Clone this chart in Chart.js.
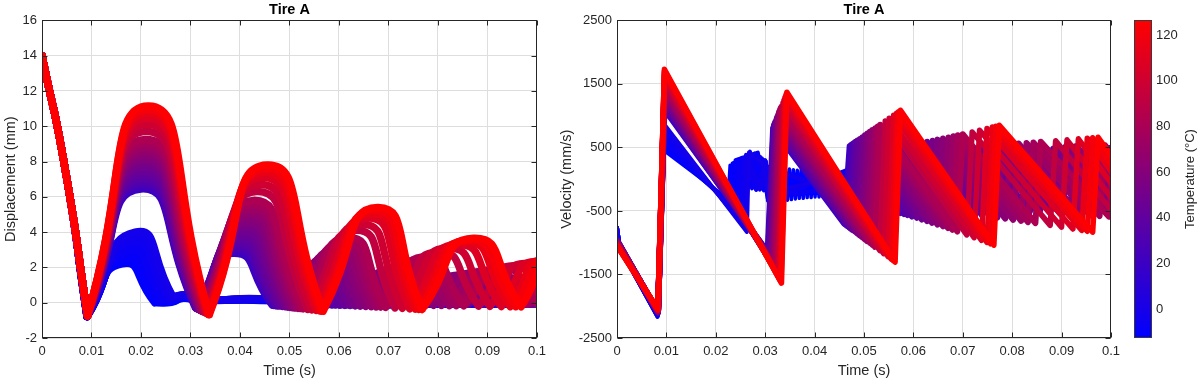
<!DOCTYPE html>
<html><head><meta charset="utf-8">
<script src="https://cdn.jsdelivr.net/npm/chart.js@4/dist/chart.umd.min.js"></script>
<style>
html,body{margin:0;padding:0;background:#fff;width:1202px;height:386px;overflow:hidden;}
canvas{position:absolute;top:0;}
#cDisp{left:0;} #cVel{left:545px;} #cBar{left:1120px;}
</style></head><body>
<canvas id="cDisp" width="552" height="386"></canvas>
<canvas id="cVel" width="581" height="386"></canvas>
<canvas id="cBar" width="82" height="386"></canvas>
<script>
// ---------------- DATA ----------------
const xTicks = [0, 0.01, 0.02, 0.03, 0.04, 0.05, 0.06, 0.07, 0.08, 0.09, 0.1];
const dispTicks = [-2, 0, 2, 4, 6, 8, 10, 12, 14, 16];
const velTicks = [-2500, -1500, -500, 500, 1500, 2500];
const tempTicks = [0, 20, 40, 60, 80, 100, 120];
const colorbarRange = [-12.7, 126.6];
const panelTitles = ['Tire A', 'Tire A'];

// one curve per temperature (cold -> hot), in °C
const temperatures = [-12.7, -11, -9.5, -8, -6.5, -5, -3.5, -2,
  20, 24, 28, 32, 36, 40, 44, 48.5, 53, 57.5, 62, 67, 72, 77, 82,
  92, 100, 108, 115, 121, 126];

// displacement: shared start of the drop
const dispDropStart = [[0, 14], [0.0046, 7.7]];

// displacement: contact points (t, mm) per curve
const dispLandings = [
  [[0.0091,-0.78],[0.0228,0.0]],
  [[0.0091,-0.78],[0.0233,0.05]],
  [[0.0091,-0.78],[0.0239,0.1]],
  [[0.0091,-0.78],[0.0245,0.14]],
  [[0.0091,-0.78],[0.0251,0.18]],
  [[0.0091,-0.78],[0.0256,0.22]],
  [[0.0091,-0.78],[0.0261,0.27]],
  [[0.0091,-0.78],[0.0265,0.32]],
  [[0.0092,-0.73],[0.0310,-0.28],[0.0465,-0.13],[0.0564,-0.08],[0.0659,-0.08],[0.0754,-0.08],[0.0849,-0.08],[0.0944,-0.08],[0.1039,-0.08]],
  [[0.0092,-0.73],[0.0311,-0.29],[0.0468,-0.14],[0.0571,-0.09],[0.0669,-0.08],[0.0767,-0.08],[0.0863,-0.08],[0.0958,-0.08],[0.1053,-0.08]],
  [[0.0092,-0.73],[0.0312,-0.30],[0.0471,-0.15],[0.0579,-0.10],[0.0680,-0.09],[0.0780,-0.08],[0.0877,-0.08],[0.0972,-0.08],[0.1067,-0.08]],
  [[0.0092,-0.73],[0.0312,-0.31],[0.0474,-0.16],[0.0586,-0.11],[0.0690,-0.09],[0.0793,-0.08],[0.0892,-0.08],[0.0988,-0.08],[0.1083,-0.08]],
  [[0.0092,-0.73],[0.0313,-0.33],[0.0477,-0.17],[0.0593,-0.12],[0.0701,-0.10],[0.0807,-0.08],[0.0908,-0.08],[0.1004,-0.08]],
  [[0.0092,-0.73],[0.0314,-0.34],[0.0481,-0.18],[0.0602,-0.13],[0.0714,-0.10],[0.0824,-0.08],[0.0928,-0.08],[0.1026,-0.08]],
  [[0.0092,-0.73],[0.0316,-0.36],[0.0486,-0.20],[0.0612,-0.14],[0.0728,-0.11],[0.0841,-0.08],[0.0948,-0.08],[0.1048,-0.08]],
  [[0.0092,-0.73],[0.0317,-0.38],[0.0491,-0.22],[0.0622,-0.15],[0.0744,-0.12],[0.0861,-0.08],[0.0969,-0.08],[0.1071,-0.08]],
  [[0.0092,-0.73],[0.0318,-0.40],[0.0496,-0.24],[0.0633,-0.17],[0.0760,-0.13],[0.0882,-0.08],[0.0991,-0.08],[0.1095,-0.08]],
  [[0.0092,-0.73],[0.0320,-0.42],[0.0501,-0.26],[0.0643,-0.19],[0.0775,-0.14],[0.0902,-0.08],[0.1015,-0.08]],
  [[0.0092,-0.73],[0.0321,-0.44],[0.0506,-0.27],[0.0654,-0.20],[0.0791,-0.14],[0.0922,-0.08],[0.1038,-0.08]],
  [[0.0092,-0.73],[0.0322,-0.46],[0.0511,-0.29],[0.0665,-0.22],[0.0807,-0.15],[0.0942,-0.08],[0.1061,-0.08]],
  [[0.0092,-0.73],[0.0324,-0.48],[0.0517,-0.31],[0.0675,-0.23],[0.0823,-0.16],[0.0963,-0.08],[0.1085,-0.08]],
  [[0.0092,-0.73],[0.0325,-0.50],[0.0522,-0.32],[0.0684,-0.24],[0.0837,-0.16],[0.0982,-0.08],[0.1092,-0.08]],
  [[0.0092,-0.73],[0.0327,-0.52],[0.0527,-0.34],[0.0694,-0.26],[0.0852,-0.17],[0.1001,-0.08],[0.1100,-0.08]],
  [[0.0092,-0.73],[0.0330,-0.56],[0.0537,-0.38],[0.0713,-0.29],[0.0882,-0.19],[0.1017,-0.08]],
  [[0.0092,-0.73],[0.0332,-0.59],[0.0545,-0.40],[0.0728,-0.31],[0.0905,-0.20],[0.1037,-0.08]],
  [[0.0092,-0.73],[0.0334,-0.62],[0.0554,-0.43],[0.0743,-0.34],[0.0928,-0.21],[0.1058,-0.08]],
  [[0.0092,-0.73],[0.0336,-0.65],[0.0560,-0.45],[0.0754,-0.36],[0.0946,-0.22],[0.1074,-0.08]],
  [[0.0092,-0.73],[0.0337,-0.66],[0.0564,-0.47],[0.0761,-0.37],[0.0957,-0.22],[0.1084,-0.08]],
  [[0.0092,-0.73],[0.0338,-0.68],[0.0568,-0.48],[0.0768,-0.38],[0.0968,-0.23],[0.1095,-0.08]]
];

// displacement: bounce apexes (t, mm) per curve
const dispPeaks = [
  [[0.0162,2.2]],
  [[0.0166,2.45]],
  [[0.0170,2.7]],
  [[0.0174,2.95]],
  [[0.0178,3.2]],
  [[0.0181,3.45]],
  [[0.0185,3.72]],
  [[0.0188,4.0]],
  [[0.0200,6.45],[0.0386,2.8],[0.0519,1.0],[0.0613,1.0],[0.0708,1.0],[0.0803,1.0],[0.0898,1.0],[0.0993,1.0]],
  [[0.0200,6.6],[0.0388,2.95],[0.0525,1.13],[0.0622,1.07],[0.0720,1.05],[0.0816,1.02],[0.0912,1.0],[0.1007,1.0]],
  [[0.0201,6.75],[0.0390,3.1],[0.0530,1.27],[0.0632,1.15],[0.0732,1.1],[0.0830,1.05],[0.0926,1.0],[0.1021,1.0]],
  [[0.0201,6.9],[0.0392,3.25],[0.0535,1.41],[0.0640,1.22],[0.0744,1.15],[0.0843,1.08],[0.0940,1.02],[0.1036,1.0]],
  [[0.0202,7.05],[0.0394,3.4],[0.0541,1.55],[0.0649,1.3],[0.0756,1.2],[0.0859,1.1],[0.0957,1.05]],
  [[0.0202,7.25],[0.0397,3.6],[0.0548,1.72],[0.0660,1.41],[0.0771,1.26],[0.0877,1.15],[0.0977,1.08]],
  [[0.0203,7.45],[0.0400,3.8],[0.0555,1.9],[0.0672,1.52],[0.0787,1.32],[0.0896,1.2],[0.0998,1.1]],
  [[0.0204,7.67],[0.0403,4.05],[0.0563,2.12],[0.0685,1.66],[0.0805,1.4],[0.0916,1.25],[0.1020,1.15]],
  [[0.0205,7.9],[0.0407,4.3],[0.0571,2.35],[0.0699,1.8],[0.0823,1.48],[0.0937,1.3],[0.1042,1.2]],
  [[0.0205,8.12],[0.0410,4.55],[0.0579,2.58],[0.0712,1.94],[0.0841,1.56],[0.0958,1.38]],
  [[0.0206,8.35],[0.0414,4.8],[0.0587,2.8],[0.0725,2.08],[0.0859,1.64],[0.0980,1.45]],
  [[0.0207,8.57],[0.0417,5.05],[0.0595,3.02],[0.0738,2.22],[0.0877,1.72],[0.1002,1.52]],
  [[0.0208,8.8],[0.0421,5.3],[0.0604,3.25],[0.0752,2.35],[0.0896,1.8],[0.1024,1.6]],
  [[0.0208,9.02],[0.0424,5.55],[0.0611,3.47],[0.0764,2.47],[0.0912,1.88],[0.1037,1.65]],
  [[0.0209,9.25],[0.0427,5.8],[0.0619,3.7],[0.0776,2.6],[0.0929,1.96],[0.1050,1.7]],
  [[0.0210,9.7],[0.0434,6.3],[0.0634,4.1],[0.0801,2.88],[0.0952,2.1]],
  [[0.0212,10.1],[0.0440,6.7],[0.0646,4.45],[0.0820,3.1],[0.0974,2.22]],
  [[0.0213,10.45],[0.0445,7.1],[0.0658,4.8],[0.0839,3.3],[0.0996,2.34]],
  [[0.0214,10.75],[0.0449,7.4],[0.0667,5.05],[0.0854,3.45],[0.1013,2.44]],
  [[0.0214,10.95],[0.0452,7.6],[0.0672,5.25],[0.0863,3.56],[0.1023,2.5]],
  [[0.0215,11.15],[0.0455,7.8],[0.0678,5.4],[0.0872,3.65],[0.1034,2.56]]
];

// displacement: resting part after the last contact (cold curves only)
const dispTails = [
  [[0.0262,0.02],[0.0285,0.25],[0.0310,0.15],[0.0458,0.12],[0.0472,-0.05],[0.1,-0.05]],
  [[0.0265,0.1],[0.0287,0.3],[0.0310,0.15],[0.0459,0.13],[0.0473,-0.05],[0.1,-0.05]],
  [[0.0268,0.2],[0.0289,0.33],[0.0310,0.16],[0.0460,0.15],[0.0474,-0.04],[0.1,-0.05]],
  [[0.0272,0.3],[0.0291,0.36],[0.0311,0.17],[0.0460,0.16],[0.0474,-0.04],[0.1,-0.05]],
  [[0.0276,0.36],[0.0293,0.38],[0.0311,0.18],[0.0461,0.17],[0.0475,-0.04],[0.1,-0.05]],
  [[0.0279,0.4],[0.0295,0.4],[0.0312,0.19],[0.0461,0.18],[0.0475,-0.04],[0.1,-0.05]],
  [[0.0282,0.43],[0.0297,0.41],[0.0312,0.2],[0.0462,0.19],[0.0476,-0.04],[0.1,-0.05]],
  [[0.0285,0.45],[0.0298,0.42],[0.0313,0.2],[0.0462,0.2],[0.0476,-0.04],[0.1,-0.05]],
  [],[],[],[],[],[],[],[],[],[],[],[],[],[],[],[],[],[],[],[],[]
];

// velocity: (t, mm/s) knots per curve
const velKnots = [
  [[0,-760],[0.0006,-1090],[0.0082,-2170],[0.0092,470],[0.0225,-310],[0.0229,220],[0.0233,-150],[0.0237,260],[0.0241,-140],[0.0245,300],[0.0249,-130],[0.0253,340],[0.0257,-120],[0.0261,390],[0.0265,-130],[0.0269,440],[0.0273,-150],[0.0277,400],[0.0281,-160],[0.0285,360],[0.0289,-170],[0.0293,320],[0.0297,-180],[0.0301,290],[0.0305,-340],[0.0309,160],[0.0313,-350],[0.0317,170],[0.0321,-340],[0.0325,160],[0.0329,-350],[0.0333,170],[0.0337,-340],[0.0341,150],[0.0345,-330],[0.0349,160],[0.0353,-320],[0.0357,150],[0.0361,-310],[0.0365,140],[0.0369,-300],[0.0373,150],[0.0377,-300],[0.0381,140],[0.0385,-290],[0.0389,130],[0.0393,-290],[0.0397,130],[0.0401,-280],[0.0405,120],[0.0409,-280],[0.0413,120],[0.0417,-270],[0.0421,110],[0.0425,-280],[0.0429,110],[0.0433,-290],[0.0437,100],[0.0441,-300],[0.0445,100],[0.0449,-290],[0.0453,90],[0.0457,-280],[0.0461,100],[0.0465,-270],[0.0469,80],[0.0475,-100],[0.1,-60]],
  [[0,-760],[0.0006,-1090],[0.0082,-2165],[0.0092,530],[0.0230,-380],[0.0234,250],[0.0280,380],[0.0300,-150],[0.0470,-200],[0.1,-80]],
  [[0,-760],[0.0006,-1090],[0.0082,-2160],[0.0092,590],[0.0236,-450],[0.0240,300],[0.0285,420],[0.0305,-250],[0.0470,120],[0.1,-30]],
  [[0,-760],[0.0006,-1090],[0.0082,-2155],[0.0092,650],[0.0242,-520],[0.0246,280],[0.0250,-120],[0.0254,330],[0.0258,-110],[0.0262,380],[0.0266,-120],[0.0270,430],[0.0274,-140],[0.0278,410],[0.0282,-150],[0.0286,370],[0.0290,-160],[0.0294,330],[0.0298,-170],[0.0302,280],[0.0308,-330],[0.0312,170],[0.0316,-340],[0.0320,160],[0.0470,-250],[0.1,-80]],
  [[0,-760],[0.0006,-1090],[0.0082,-2150],[0.0092,720],[0.0248,-600],[0.0252,200],[0.0290,350],[0.0305,-300],[0.0470,-100],[0.1,-60]],
  [[0,-760],[0.0006,-1090],[0.0082,-2145],[0.0092,780],[0.0253,-670],[0.0257,330],[0.0282,-170],[0.0300,300],[0.0310,-330],[0.0470,160],[0.1,-40]],
  [[0,-760],[0.0006,-1090],[0.0082,-2140],[0.0092,840],[0.0258,-750],[0.0262,380],[0.0290,-150],[0.0305,200],[0.0470,-300],[0.1,-70]],
  [[0,-760],[0.0006,-1090],[0.0082,-2135],[0.0092,900],[0.0263,-830],[0.0267,420],[0.0295,250],[0.0305,-200],[0.0470,60],[0.1,-50]],
  [[0,-960],[0.0083,-2100],[0.0096,1100],[0.0305,-1150],[0.0316,800],[0.0460,-700],[0.0471,520],[0.0559,-500],[0.0570,500],[0.0654,-480],[0.0665,480],[0.0749,-470],[0.0760,480],[0.0844,-460],[0.0855,480],[0.0939,-460],[0.0950,480],[0.1034,-460]],
  [[0,-962],[0.0083,-2098],[0.0096,1119],[0.0306,-1165],[0.0317,817],[0.0463,-718],[0.0474,537],[0.0566,-516],[0.0577,510],[0.0664,-490],[0.0675,485],[0.0762,-476],[0.0773,480],[0.0858,-460],[0.0869,480],[0.0953,-460],[0.0964,480],[0.1048,-460]],
  [[0,-965],[0.0083,-2097],[0.0096,1138],[0.0307,-1179],[0.0318,834],[0.0466,-736],[0.0477,554],[0.0574,-532],[0.0585,521],[0.0675,-501],[0.0686,491],[0.0775,-482],[0.0786,480],[0.0872,-460],[0.0883,480],[0.0967,-460],[0.0978,480],[0.1062,-460]],
  [[0,-967],[0.0083,-2095],[0.0096,1157],[0.0307,-1193],[0.0318,851],[0.0469,-754],[0.0480,571],[0.0581,-548],[0.0592,532],[0.0685,-512],[0.0696,497],[0.0788,-488],[0.0799,482],[0.0887,-462],[0.0898,480],[0.0983,-460],[0.0994,480],[0.1078,-460]],
  [[0,-970],[0.0083,-2094],[0.0096,1176],[0.0308,-1208],[0.0319,868],[0.0472,-773],[0.0483,588],[0.0588,-565],[0.0599,542],[0.0696,-522],[0.0707,502],[0.0802,-494],[0.0813,485],[0.0903,-465],[0.0914,480],[0.0999,-460],[0.1010,480],[0.1095,-460]],
  [[0,-972],[0.0083,-2092],[0.0096,1201],[0.0309,-1228],[0.0320,891],[0.0476,-797],[0.0487,611],[0.0597,-587],[0.0608,556],[0.0709,-537],[0.0720,509],[0.0819,-502],[0.0830,490],[0.0923,-470],[0.0934,482],[0.1021,-462]],
  [[0,-975],[0.0083,-2090],[0.0096,1226],[0.0311,-1247],[0.0322,914],[0.0481,-821],[0.0492,633],[0.0607,-608],[0.0618,570],[0.0723,-551],[0.0734,516],[0.0836,-510],[0.0847,495],[0.0943,-475],[0.0954,485],[0.1043,-465]],
  [[0,-978],[0.0083,-2088],[0.0096,1258],[0.0312,-1272],[0.0323,942],[0.0486,-852],[0.0497,662],[0.0617,-635],[0.0628,588],[0.0739,-569],[0.0750,525],[0.0856,-520],[0.0867,500],[0.0964,-483],[0.0975,488],[0.1066,-468]],
  [[0,-980],[0.0083,-2085],[0.0096,1289],[0.0313,-1296],[0.0324,970],[0.0491,-882],[0.0502,690],[0.0628,-661],[0.0639,605],[0.0755,-586],[0.0766,534],[0.0877,-530],[0.0888,505],[0.0986,-490],[0.0997,490],[0.1090,-470]],
  [[0,-985],[0.0083,-2083],[0.0096,1321],[0.0315,-1320],[0.0326,999],[0.0496,-912],[0.0507,718],[0.0638,-688],[0.0649,623],[0.0770,-604],[0.0781,543],[0.0897,-540],[0.0908,512],[0.1010,-495]],
  [[0,-990],[0.0083,-2080],[0.0096,1352],[0.0316,-1344],[0.0327,1027],[0.0501,-942],[0.0512,746],[0.0649,-715],[0.0660,640],[0.0786,-621],[0.0797,552],[0.0917,-550],[0.0928,520],[0.1033,-500]],
  [[0,-995],[0.0083,-2078],[0.0096,1384],[0.0317,-1369],[0.0328,1056],[0.0506,-973],[0.0517,775],[0.0660,-742],[0.0671,658],[0.0802,-639],[0.0813,561],[0.0937,-560],[0.0948,525],[0.1056,-505]],
  [[0,-1000],[0.0083,-2075],[0.0096,1415],[0.0319,-1393],[0.0330,1084],[0.0512,-1003],[0.0523,803],[0.0670,-769],[0.0681,675],[0.0818,-657],[0.0829,570],[0.0958,-570],[0.0969,530],[0.1080,-510]],
  [[0,-1005],[0.0083,-2073],[0.0096,1447],[0.0320,-1417],[0.0331,1113],[0.0517,-1033],[0.0528,831],[0.0679,-796],[0.0690,692],[0.0832,-675],[0.0843,579],[0.0977,-580],[0.0988,535],[0.1087,-505]],
  [[0,-1010],[0.0083,-2070],[0.0096,1478],[0.0322,-1441],[0.0333,1141],[0.0522,-1063],[0.0533,859],[0.0689,-823],[0.0700,709],[0.0847,-692],[0.0858,588],[0.0996,-590],[0.1007,540],[0.1095,-500]],
  [[0,-1020],[0.0083,-2065],[0.0096,1541],[0.0325,-1490],[0.0336,1198],[0.0532,-1124],[0.0543,916],[0.0708,-877],[0.0719,744],[0.0877,-727],[0.0888,606],[0.1012,-600]],
  [[0,-1028],[0.0083,-2061],[0.0096,1591],[0.0327,-1528],[0.0338,1243],[0.0540,-1172],[0.0551,961],[0.0723,-920],[0.0734,772],[0.0900,-755],[0.0911,620],[0.1032,-610]],
  [[0,-1036],[0.0083,-2057],[0.0096,1642],[0.0329,-1567],[0.0340,1288],[0.0549,-1220],[0.0560,1006],[0.0738,-963],[0.0749,800],[0.0923,-784],[0.0934,635],[0.1053,-615]],
  [[0,-1042],[0.0083,-2054],[0.0096,1680],[0.0331,-1596],[0.0342,1323],[0.0555,-1256],[0.0566,1040],[0.0749,-995],[0.0760,821],[0.0941,-805],[0.0952,646],[0.1069,-620]],
  [[0,-1046],[0.0083,-2052],[0.0096,1705],[0.0332,-1616],[0.0343,1345],[0.0559,-1281],[0.0570,1062],[0.0756,-1016],[0.0767,835],[0.0952,-819],[0.0963,653],[0.1079,-620]],
  [[0,-1050],[0.0083,-2050],[0.0096,1730],[0.0333,-1635],[0.0344,1368],[0.0563,-1305],[0.0574,1085],[0.0763,-1038],[0.0774,849],[0.0963,-833],[0.0974,660],[0.1090,-620]]
];

// ---------------- STYLE / BUILD ----------------
const FONT = '"Liberation Sans", Arial, Helvetica, sans-serif';
const INK = '#262626';
Chart.defaults.font.family = FONT;
Chart.defaults.color = INK;

function tempColor(T) {
  const f = Math.min(1, Math.max(0, (T - colorbarRange[0]) / (colorbarRange[1] - colorbarRange[0])));
  return 'rgb(' + Math.round(255 * f) + ',0,' + Math.round(255 * (1 - f)) + ')';
}

function dispPoints(i) {
  const L = dispLandings[i], P = dispPeaks[i], tail = dispTails[i];
  const pts = dispDropStart.map(p => ({x: p[0], y: p[1]}));
  pts.push({x: L[0][0], y: L[0][1]});
  for (let k = 0; k < P.length; k++) {
    pts.push({x: L[k][0], y: null});
    pts.push({x: L[k][0], y: L[k][1]});
    pts.push({x: P[k][0], y: P[k][1]});
    pts.push({x: L[k + 1][0], y: L[k + 1][1]});
  }
  if (tail && tail.length) {
    const last = L[P.length];
    pts.push({x: last[0], y: null});
    pts.push({x: last[0], y: last[1]});
    tail.forEach(p => pts.push({x: p[0], y: p[1]}));
  }
  return pts;
}

const N = temperatures.length;
const dispDatasets = temperatures.map((T, i) => ({
  data: dispPoints(i), borderColor: tempColor(T), borderWidth: 7.5,
  tension: 0.65, pointRadius: 0, fill: false, spanGaps: false,
  borderCapStyle: 'round', borderJoinStyle: 'round', order: N - i
}));
function velWidth(i) {
  if (i === 0 || i === 3) return 3.5;
  if (i < 8) return 4;
  if (i < 23) return 6;
  return 5.5;
}
const velDatasets = temperatures.map((T, i) => ({
  data: velKnots[i].map(p => ({x: p[0], y: p[1]})), borderColor: tempColor(T),
  borderWidth: velWidth(i),
  tension: 0, pointRadius: 0, fill: false,
  borderCapStyle: 'round', borderJoinStyle: 'round', order: N - i
}));

const boxPlugin = {
  id: 'matlabBox',
  afterDraw(chart) {
    const {ctx, chartArea: a, scales} = chart;
    ctx.save();
    ctx.strokeStyle = INK; ctx.lineWidth = 1;
    const L = Math.round(a.left) + 0.5, R = Math.round(a.right) - 0.5;
    const T = Math.round(a.top) + 0.5, B = Math.round(a.bottom) - 0.5;
    ctx.strokeRect(L, T, R - L, B - T);
    ctx.beginPath();
    scales.x.ticks.forEach(t => {
      const px = Math.round(scales.x.getPixelForValue(t.value)) + 0.5;
      ctx.moveTo(px, T); ctx.lineTo(px, T + 5);
      ctx.moveTo(px, B); ctx.lineTo(px, B - 5);
    });
    scales.y.ticks.forEach(t => {
      const py = Math.round(scales.y.getPixelForValue(t.value)) + 0.5;
      ctx.moveTo(L, py); ctx.lineTo(L + 5, py);
      ctx.moveTo(R, py); ctx.lineTo(R - 5, py);
    });
    ctx.stroke();
    ctx.restore();
  }
};

function panelOptions(title, yTitle, yTickVals, yMin, yMax, yAxisWidth, yTitlePad) {
  return {
    responsive: false, animation: false, devicePixelRatio: 1,
    layout: {padding: {left: 0, right: 0, top: 0, bottom: 0}},
    elements: {line: {capBezierPoints: false}},
    plugins: {
      legend: {display: false}, tooltip: {enabled: false},
      title: {display: true, text: title, fullSize: false, color: '#000',
        font: {size: 14.5, weight: 'bold', family: FONT}, padding: {top: 1, bottom: 2}}
    },
    scales: {
      x: {
        type: 'linear', min: 0, max: 0.1,
        afterBuildTicks: s => { s.ticks = xTicks.map(v => ({value: v})); },
        afterFit: s => { s.height = 48; },
        grid: {color: '#dedede', drawTicks: false, lineWidth: 1},
        border: {display: false},
        ticks: {callback: v => String(v), padding: 6, autoSkip: false, maxRotation: 0, font: {size: 13}},
        title: {display: true, text: 'Time (s)', font: {size: 14.5}, padding: {top: 0, bottom: 6}}
      },
      y: {
        type: 'linear', min: yMin, max: yMax,
        afterBuildTicks: s => { s.ticks = yTickVals.map(v => ({value: v})); },
        afterFit: s => { s.width = yAxisWidth; },
        grid: {color: '#dedede', drawTicks: false, lineWidth: 1},
        border: {display: false},
        ticks: {callback: v => String(v), padding: 5, autoSkip: false, font: {size: 13}},
        title: {display: true, text: yTitle, font: {size: 14.5}, padding: {top: yTitlePad, bottom: 0}}
      }
    }
  };
}

new Chart(document.getElementById('cDisp'), {
  type: 'line',
  data: {datasets: dispDatasets},
  options: panelOptions(panelTitles[0], 'Displacement (mm)', dispTicks, -2, 16, 42, 2),
  plugins: [boxPlugin]
});

new Chart(document.getElementById('cVel'), {
  type: 'line',
  data: {datasets: velDatasets},
  options: panelOptions(panelTitles[1], 'Velocity (mm/s)', velTicks, -2500, 2500, 72, 13),
  plugins: [boxPlugin]
});

const cbPlugin = {
  id: 'cbDecor',
  afterDraw(chart) {
    const {ctx, chartArea: a} = chart;
    ctx.save();
    ctx.strokeStyle = '#3a3a3a'; ctx.lineWidth = 1;
    ctx.strokeRect(Math.round(a.left) + 0.5, Math.round(a.top) + 0.5,
      Math.round(a.right - a.left) - 1, Math.round(a.bottom - a.top) - 1);
    ctx.translate(70, (a.top + a.bottom) / 2);
    ctx.rotate(-Math.PI / 2);
    ctx.font = '13px ' + FONT;
    ctx.fillStyle = INK; ctx.textAlign = 'center'; ctx.textBaseline = 'middle';
    ctx.fillText('Temperature (\u00B0C)', 0, 0);
    ctx.restore();
  }
};

new Chart(document.getElementById('cBar'), {
  type: 'bar',
  data: {labels: ['T'], datasets: [{
    data: [colorbarRange],
    barPercentage: 1, categoryPercentage: 1, borderWidth: 0,
    backgroundColor: (c) => {
      const a = c.chart.chartArea;
      if (!a) return 'rgb(128,0,128)';
      const g = c.chart.ctx.createLinearGradient(0, a.bottom, 0, a.top);
      g.addColorStop(0, tempColor(colorbarRange[0]));
      g.addColorStop(1, tempColor(colorbarRange[1]));
      return g;
    }
  }]},
  options: {
    responsive: false, animation: false, devicePixelRatio: 1,
    layout: {padding: {left: 14, right: 0, top: 20, bottom: 48}},
    plugins: {legend: {display: false}, tooltip: {enabled: false}},
    scales: {
      x: {display: false},
      y: {
        position: 'right', min: colorbarRange[0], max: colorbarRange[1],
        afterBuildTicks: s => { s.ticks = tempTicks.map(v => ({value: v})); },
        afterFit: s => { s.width = 50; },
        grid: {display: false, drawTicks: false},
        border: {display: false},
        ticks: {callback: v => String(v), padding: 4, font: {size: 13}}
      }
    }
  },
  plugins: [cbPlugin]
});
</script>
</body></html>
